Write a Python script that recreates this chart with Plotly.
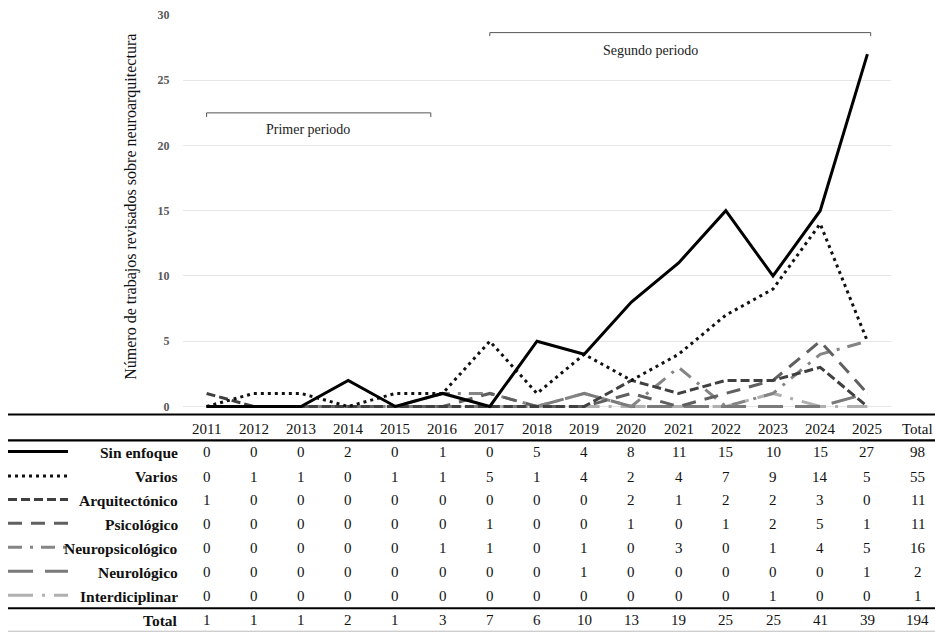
import plotly.graph_objects as go

years = list(range(2011, 2026))
sin_enfoque = [0, 0, 0, 2, 0, 1, 0, 5, 4, 8, 11, 15, 10, 15, 27]
varios = [0, 1, 1, 0, 1, 1, 5, 1, 4, 2, 4, 7, 9, 14, 5]
arquitectonico = [1, 0, 0, 0, 0, 0, 0, 0, 0, 2, 1, 2, 2, 3, 0]
psicologico = [0, 0, 0, 0, 0, 0, 1, 0, 0, 1, 0, 1, 2, 5, 1]
neuropsicologico = [0, 0, 0, 0, 0, 1, 1, 0, 1, 0, 3, 0, 1, 4, 5]
neurologico = [0, 0, 0, 0, 0, 0, 0, 0, 1, 0, 0, 0, 0, 0, 1]
interdiciplinar = [0, 0, 0, 0, 0, 0, 0, 0, 0, 0, 0, 0, 1, 0, 0]
totales = [1, 1, 1, 2, 1, 3, 7, 6, 10, 13, 19, 25, 25, 41, 39]

series = [
    ("Sin enfoque", sin_enfoque, "#000000", "solid", 3),
    ("Varios", varios, "#111111", "3px,4px", 3),
    ("Arquitectónico", arquitectonico, "#404040", "9px,4px", 3),
    ("Psicológico", psicologico, "#606060", "14px,9px", 3),
    ("Neuropsicológico", neuropsicologico, "#858585", "14px,8px,3px,8px", 3),
    ("Neurológico", neurologico, "#7a7a7a", "25px,12px", 3),
    ("Interdiciplinar", interdiciplinar, "#b0b0b0", "25px,9px,3px,9px", 3),
]

W, H = 935, 633
L, R, T, B = 183, 44, 15, 219.5
SERIF = "Liberation Serif, Times New Roman, serif"


def px(x):
    return (x - L) / (W - L - R)


def py(y):
    return (H - B - y) / (H - T - B)


fig = go.Figure()
for name, vals, color, dash, w in reversed(series):
    fig.add_trace(go.Scatter(x=years, y=vals, mode="lines", name=name,
                             line=dict(color=color, width=w, dash=dash),
                             showlegend=False))

shapes = []
annotations = []

# period brackets
shapes.append(dict(type="path", xref="x", yref="y",
                   path="M 2011,22.18 L 2011,22.5 L 2015.75,22.5 L 2015.75,22.18",
                   line=dict(color="#555555", width=1)))
shapes.append(dict(type="path", xref="x", yref="y",
                   path="M 2017,28.38 L 2017,28.65 L 2025.07,28.65 L 2025.07,28.38",
                   line=dict(color="#555555", width=1)))
annotations.append(dict(x=2013.15, y=21.2, xref="x", yref="y", text="Primer periodo",
                        showarrow=False, xanchor="center", yanchor="middle",
                        font=dict(family=SERIF, size=14, color="#222222")))
annotations.append(dict(x=2020.4, y=27.3, xref="x", yref="y", text="Segundo periodo",
                        showarrow=False, xanchor="center", yanchor="middle",
                        font=dict(family=SERIF, size=14, color="#222222")))

# y title
annotations.append(dict(x=px(131), y=py(207), xref="paper", yref="paper",
                        text="Número de trabajos revisados sobre neuroarquitectura",
                        textangle=-90, showarrow=False, xanchor="center", yanchor="middle",
                        font=dict(family=SERIF, size=16, color="#111111")))

# table lines
for yy, col, wd in [(415, "#000000", 2.2), (441, "#000000", 2.2), (609, "#000000", 2.2), (632, "#bbbbbb", 1)]:
    shapes.append(dict(type="line", xref="paper", yref="paper",
                       x0=px(8), x1=px(935), y0=py(yy), y1=py(yy),
                       line=dict(color=col, width=wd)))

num_font = dict(family=SERIF, size=15, color="#111111")
lab_font = dict(family=SERIF, size=15.5, color="#111111", weight="bold")
x_total = px(918)


def cell(x, y, text, xref="x", xanchor="center", font=num_font):
    annotations.append(dict(x=x, y=py(y), xref=xref, yref="paper", text=text,
                            showarrow=False, xanchor=xanchor, yanchor="middle", font=font))


# header
for yr in years:
    cell(yr, 430, str(yr))
cell(x_total, 430, "Total", xref="paper")

row_y = [453, 477.5, 501, 525, 549, 573, 597]
for (name, vals, color, dash, w), yy in zip(series, row_y):
    shapes.append(dict(type="line", xref="paper", yref="paper",
                       x0=px(8), x1=px(68), y0=py(yy - 1), y1=py(yy - 1),
                       line=dict(color=color, width=3, dash=dash)))
    cell(px(180), yy, name, xref="paper", xanchor="right", font=lab_font)
    for yr, v in zip(years, vals):
        cell(yr, yy, str(v))
    cell(x_total, yy, str(sum(vals)), xref="paper")

# total row
cell(px(180), 621, "Total", xref="paper", xanchor="right", font=lab_font)
for yr, v in zip(years, totales):
    cell(yr, 621, str(v))
cell(x_total, 621, str(sum(totales)), xref="paper")

fig.update_layout(
    width=W, height=H,
    margin=dict(l=L, r=R, t=T, b=B, pad=0, autoexpand=False),
    paper_bgcolor="white", plot_bgcolor="white",
    shapes=shapes, annotations=annotations,
    xaxis=dict(range=[2010.5, 2025.5], showticklabels=False, showgrid=False,
               zeroline=False, showline=False, ticks="", automargin=False),
    yaxis=dict(range=[-0.5, 30], tickvals=[0, 5, 10, 15, 20, 25, 30],
               showgrid=True, gridcolor="#e6e6e6", gridwidth=1, zeroline=False,
               showline=False, ticks="outside", ticklen=10, tickcolor="rgba(0,0,0,0)",
               automargin=False,
               tickfont=dict(family=SERIF, size=12, color="#595959", weight="bold")),
)

fig.write_html("out.html", config={"displayModeBar": False},
               post_script="document.body.style.margin='0px';document.body.style.overflow='hidden';")
